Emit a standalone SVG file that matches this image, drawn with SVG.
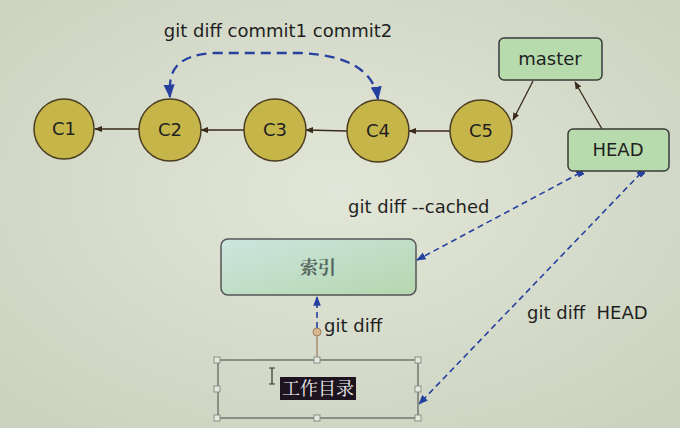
<svg xmlns="http://www.w3.org/2000/svg" width="680" height="428" viewBox="0 0 680 428">
<defs>
<radialGradient id="bg" cx="50%" cy="45%" r="70%">
<stop offset="0" stop-color="#e2e6d8"/>
<stop offset="1" stop-color="#cbd2bf"/>
</radialGradient>
<linearGradient id="idx" x1="0" y1="0" x2="1" y2="1">
<stop offset="0" stop-color="#cbe6df"/>
<stop offset="1" stop-color="#b6d6ae"/>
</linearGradient>
<marker id="ah" viewBox="0 0 10 10" refX="9" refY="5" markerWidth="6" markerHeight="6" orient="auto-start-reverse">
<path d="M0,1 L10,5 L0,9 z" fill="#3a2a1a"/>
</marker>
<marker id="bh" viewBox="0 0 10 10" refX="9" refY="5" markerWidth="6" markerHeight="6" orient="auto-start-reverse">
<path d="M0,1 L10,5 L0,9 z" fill="#2640a0"/>
</marker>
<marker id="bs" viewBox="0 0 10 10" refX="5" refY="5" markerWidth="4" markerHeight="4" orient="auto">
<rect x="0" y="0" width="10" height="10" fill="#2640a0"/>
</marker>
<style>
.c{fill:#c6b64a;stroke:#4b3d22;stroke-width:1.5}
.g{fill:#b7dbac;stroke:#3a3a3a;stroke-width:1.5}
.t{font-family:"DejaVu Sans","Liberation Sans",sans-serif;font-size:18px;fill:#1f1f1f}
.l{stroke:#3a2a1a;stroke-width:1.3;fill:none;marker-end:url(#ah)}
.d{stroke:#2640a0;stroke-width:1.6;fill:none;stroke-dasharray:6,4;marker-end:url(#bh)}
.h{fill:#e6e8de;stroke:#8a8f86;stroke-width:1}
.cj{font-family:"Noto Serif CJK SC","Noto Sans CJK SC",serif;font-size:18px}
.b{font-weight:bold}
</style>
</defs>
<rect width="680" height="428" fill="url(#bg)"/>

<g id="connectors">
<line class="l" x1="139" y1="129" x2="95" y2="129"/>
<line class="l" x1="244" y1="130" x2="201" y2="130"/>
<line class="l" x1="347" y1="131" x2="306" y2="130"/>
<line class="l" x1="450" y1="131" x2="409" y2="131"/>
<line class="l" x1="533" y1="81" x2="513" y2="120"/>
<line class="l" x1="602" y1="129" x2="575" y2="82"/>
<path d="M378,99 C374,72 350,55 300,53 L215,53 C176,55 168,70 170,97" fill="none" stroke="#2640a0" stroke-width="2.3" stroke-dasharray="10,6" marker-end="url(#bh)" marker-start="url(#bh)"/>
<path class="d" d="M580,173 L417,260" style="marker-start:url(#bs)"/>
<path class="d" d="M641,173 L419,404" style="marker-start:url(#bs)"/>
<line x1="317" y1="360" x2="317" y2="333" stroke="#a08060" stroke-width="1.3"/>
<circle cx="317" cy="332" r="4" fill="#d8b890" stroke="#a08060"/>
<line class="d" x1="317" y1="328" x2="317" y2="297"/>
<text class="t" x="278" y="37" text-anchor="middle">git diff commit1 commit2</text>
<text class="t" x="348" y="213">git diff --cached</text>
<text class="t" x="324" y="332">git diff</text>
<text class="t" x="527" y="319" xml:space="preserve">git diff  HEAD</text>
</g>

<g id="C1"><circle class="c" cx="64" cy="129" r="30"/><text class="t" x="64" y="135" text-anchor="middle">C1</text></g>
<g id="C2"><circle class="c" cx="170" cy="130" r="31"/><text class="t" x="170" y="136" text-anchor="middle">C2</text></g>
<g id="C3"><circle class="c" cx="275" cy="130" r="31"/><text class="t" x="275" y="136" text-anchor="middle">C3</text></g>
<g id="C4"><circle class="c" cx="378" cy="131" r="31"/><text class="t" x="378" y="137" text-anchor="middle">C4</text></g>
<g id="C5"><circle class="c" cx="481" cy="131" r="31"/><text class="t" x="481" y="137" text-anchor="middle">C5</text></g>

<g id="master"><rect class="g" x="499" y="38" width="103" height="42" rx="5"/><text class="t" x="550" y="65" text-anchor="middle">master</text></g>
<g id="HEAD"><rect class="g" x="568" y="129" width="101" height="42" rx="5"/><text class="t" x="618" y="156" text-anchor="middle">HEAD</text></g>

<g id="index"><rect x="221" y="239" width="195" height="56" rx="7" fill="url(#idx)" stroke="#555" stroke-width="1.5"/><text class="cj b" x="318" y="274" text-anchor="middle" fill="#55665c">索引</text></g>

<g id="workdir">
<rect x="218" y="360" width="200" height="58" rx="3" fill="none" stroke="#8a8f86" stroke-width="2"/>
<rect x="280" y="377" width="76" height="23" fill="#1d1420"/>
<text class="cj" x="318" y="395" text-anchor="middle" fill="#f2f2f2">工作目录</text>
<path d="M269,368 h6 M272,368 v16 M269,384 h6" stroke="#333" stroke-width="1.2" fill="none"/>
<rect class="h" x="214" y="357" width="6" height="6"/>
<rect class="h" x="314" y="357" width="6" height="6"/>
<rect class="h" x="415" y="357" width="6" height="6"/>
<rect class="h" x="214" y="386" width="6" height="6"/>
<rect class="h" x="415" y="386" width="6" height="6"/>
<rect class="h" x="214" y="415" width="6" height="6"/>
<rect class="h" x="314" y="415" width="6" height="6"/>
<rect class="h" x="415" y="415" width="6" height="6"/>
</g>
</svg>
